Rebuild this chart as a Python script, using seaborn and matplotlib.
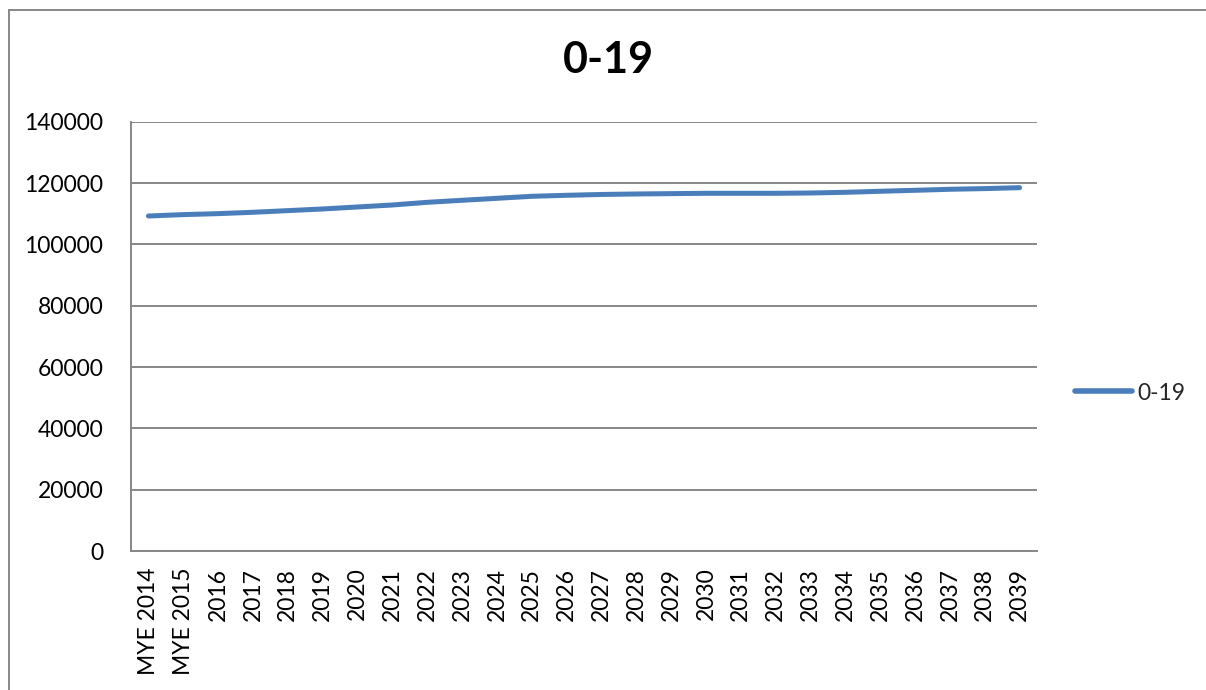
import matplotlib
matplotlib.use("Agg")
import matplotlib.pyplot as plt
from matplotlib.ticker import FixedLocator
import seaborn as sns
import pandas as pd

# Projected population aged 0-19
years = ["MYE 2014", "MYE 2015", "2016", "2017", "2018", "2019", "2020", "2021",
         "2022", "2023", "2024", "2025", "2026", "2027", "2028", "2029", "2030",
         "2031", "2032", "2033", "2034", "2035", "2036", "2037", "2038", "2039"]
population = [109250, 109700, 110020, 110460, 111000, 111540, 112190, 112840,
              113710, 114370, 115020, 115670, 116000, 116270, 116430, 116540,
              116650, 116650, 116650, 116750, 116970, 117310, 117630, 117960,
              118180, 118490]
series_name = "0-19"
y_ticks = [0, 20000, 40000, 60000, 80000, 100000, 120000, 140000]

sns.set_theme(style="white")
plt.rcParams["font.family"] = ["Lato", "DejaVu Sans"]

LINE = "#4A7EBB"
GRID = "#878787"

df = pd.DataFrame({"pos": range(len(years)), "value": population, "series": series_name})

fig = plt.figure(figsize=(12.06, 6.9), dpi=100)
ax = fig.add_axes([131 / 1206, 1 - 551 / 690, (1037 - 131) / 1206, (551 - 121.7) / 690])

sns.lineplot(data=df, x="pos", y="value", hue="series", palette=[LINE],
             linewidth=3.6, solid_capstyle="round", ax=ax, legend=False)

ax.set_xlim(-0.5, len(years) - 0.5)
ax.set_ylim(0, 140000)
ax.set_yticks(y_ticks)
ax.set_yticklabels([str(v) for v in y_ticks], fontsize=16.5, color="black")
ax.set_xticks(range(len(years)))
ax.set_xticklabels(years, rotation=90, fontsize=16.5, color="black", va="top")
ax.xaxis.set_minor_locator(FixedLocator([i - 0.5 for i in range(len(years) + 1)]))
ax.tick_params(axis="x", which="major", length=0, pad=12)
ax.tick_params(axis="x", which="minor", length=7, width=1.3, color=GRID, direction="out")
ax.tick_params(axis="y", which="major", length=8, width=1.3, color=GRID, direction="out", pad=12)
ax.set_xlabel("")
ax.set_ylabel("")

ax.grid(axis="y", color=GRID, linewidth=1.4)
ax.grid(axis="x", visible=False)
ax.set_axisbelow(True)
for side in ("top", "right"):
    ax.spines[side].set_visible(False)
for side in ("left", "bottom"):
    ax.spines[side].set_color(GRID)
    ax.spines[side].set_linewidth(1.4)

fig.text(608 / 1206, 1 - 60 / 690, series_name, ha="center", va="center",
         fontsize=31, fontweight="bold", color="black")

# Legend entry on the right
leg_handle = plt.Line2D([], [], color=LINE, linewidth=4, solid_capstyle="round")
fig.legend([leg_handle], [series_name], loc="center left",
           bbox_to_anchor=(1075 / 1206, 1 - 393 / 690), frameon=False,
           fontsize=16.5, handlelength=2.5, handletextpad=0.2, borderaxespad=0,
           borderpad=0)

# Outer chart frame (top and left edges)
fig.add_artist(plt.Line2D([8.5 / 1206, 1.0], [1 - 9.7 / 690, 1 - 9.7 / 690],
                          color=GRID, linewidth=1.4, transform=fig.transFigure))
fig.add_artist(plt.Line2D([8.5 / 1206, 8.5 / 1206], [0, 1 - 9.7 / 690],
                          color=GRID, linewidth=1.4, transform=fig.transFigure))

fig.savefig("out.png", dpi=100, facecolor="white")
